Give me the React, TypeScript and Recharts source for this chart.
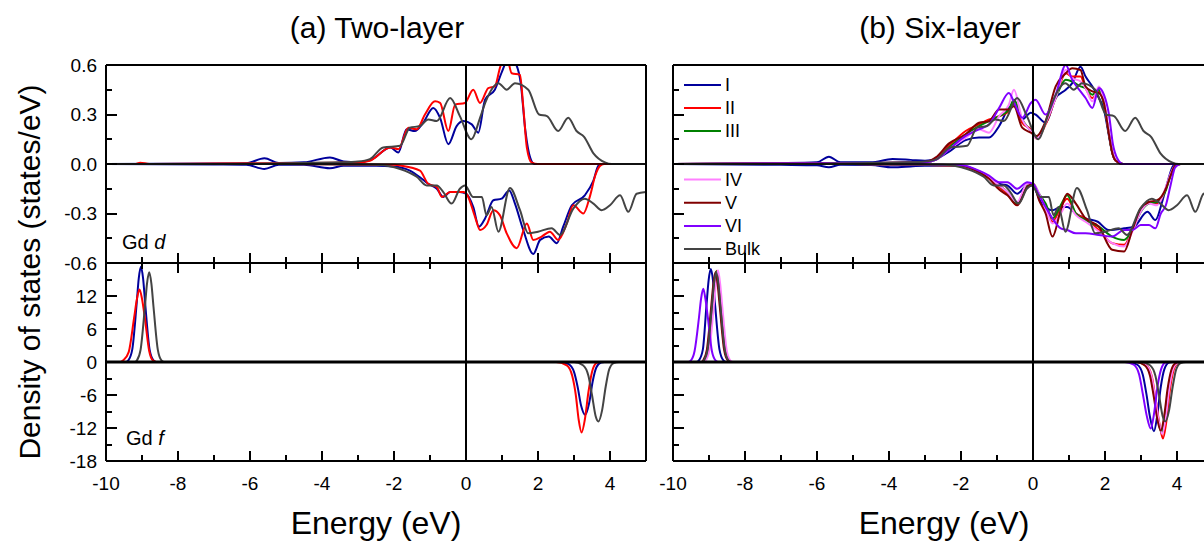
import React from "react";
import { LineChart, Line, XAxis, YAxis, ReferenceLine } from "recharts";

type P = [number, number];

// energy axis ticks (eV) and DOS ticks
const X_TICKS = [-10, -9, -8, -7, -6, -5, -4, -3, -2, -1, 0, 1, 2, 3, 4];
const D_TICKS = [-0.6, -0.45, -0.3, -0.15, 0, 0.15, 0.3, 0.45, 0.6];
const D_MAJOR = [-0.6, -0.3, 0, 0.3, 0.6];
const F_TICKS = [-18, -15, -12, -9, -6, -3, 0, 3, 6, 9, 12, 15, 18];
const F_MAJOR = [-18, -12, -6, 0, 6, 12, 18];
const F_LABELS = [-18, -12, -6, 0, 6, 12];

const LEGEND_TOP = ["I", "II", "III"];
const LEGEND_BOTTOM = ["IV", "V", "VI", "Bulk"];

const C: Record<string, string> = {
  I: "#00009c",
  II: "#ff0000",
  III: "#008000",
  IV: "#ff80ff",
  V: "#800000",
  VI: "#8000ff",
  Bulk: "#444444",
};

// ---------- bulk (same in both columns) ----------
const BULK_D_UP: P[] = [[-10, 0], [-7, 0], [-5, 0.005], [-3.5, 0.01], [-3, 0.015], [-2.67, 0.03], [-2.3, 0.1], [-1.83, 0.11], [-1.56, 0.22], [-1.28, 0.23], [-1.05, 0.27], [-0.81, 0.26], [-0.44, 0.4], [-0.17, 0.29], [0.15, 0.15], [0.39, 0.28], [0.55, 0.38], [0.9, 0.49], [1.13, 0.45], [1.36, 0.49], [1.73, 0.45], [2.03, 0.3], [2.25, 0.29], [2.56, 0.2], [2.84, 0.28], [3.07, 0.2], [3.28, 0.165], [3.54, 0.065], [3.86, 0.01], [4.05, 0], [5, 0]];
const BULK_D_DN: P[] = [[-10, 0], [-5, 0], [-2.5, -0.005], [-1.83, -0.03], [-1.37, -0.077], [-1.09, -0.13], [-0.81, -0.13], [-0.63, -0.17], [-0.4, -0.24], [-0.17, -0.15], [-0.03, -0.13], [0.2, -0.2], [0.44, -0.2], [0.57, -0.31], [0.71, -0.26], [0.9, -0.41], [1.22, -0.145], [1.5, -0.28], [1.73, -0.42], [2.0, -0.41], [2.38, -0.39], [2.61, -0.43], [2.98, -0.27], [3.3, -0.21], [3.54, -0.24], [3.77, -0.28], [4.0, -0.25], [4.28, -0.19], [4.51, -0.29], [4.74, -0.18], [5, -0.17]];
const BULK_F_UP: P[] = [[-10, 0], [-9.2, 0], [-9.14, 0.3], [-9.04, 2.2], [-8.92, 10], [-8.86, 14.3], [-8.8, 16.3], [-8.74, 14.3], [-8.68, 10], [-8.56, 2.2], [-8.46, 0.3], [-8.38, 0], [5, 0]];
const BULK_F_DN: P[] = [[-10, 0], [3.0, 0], [3.25, -0.6], [3.4, -2.5], [3.5, -6], [3.6, -9.8], [3.68, -10.8], [3.78, -8.8], [3.88, -4.5], [3.98, -1.3], [4.1, -0.2], [4.25, 0], [5, 0]];

// ---------- (a) two-layer ----------
const A_I_D_UP: P[] = [[-10, 0], [-7, 0.003], [-6.1, 0.005], [-5.6, 0.035], [-5.2, 0.006], [-4.5, 0.01], [-3.78, 0.04], [-3.4, 0.015], [-3, 0.01], [-2.6, 0.03], [-2.1, 0.1], [-1.88, 0.07], [-1.65, 0.21], [-1.42, 0.2], [-1.19, 0.25], [-0.91, 0.34], [-0.72, 0.28], [-0.49, 0.12], [-0.26, 0.23], [-0.07, 0.26], [0.16, 0.24], [0.34, 0.19], [0.53, 0.39], [0.8, 0.45], [1.0, 0.56], [1.2, 0.65], [1.4, 0.6], [1.52, 0.49], [1.65, 0.2], [1.78, 0.04], [1.9, 0], [5, 0]];
const A_I_D_DN: P[] = [[-10, 0], [-7, -0.003], [-6.1, -0.005], [-5.6, -0.03], [-5.2, -0.005], [-4.5, -0.005], [-3.78, -0.026], [-3.4, -0.01], [-2.5, -0.01], [-2, -0.015], [-1.56, -0.04], [-1.28, -0.08], [-1.05, -0.12], [-0.81, -0.15], [-0.63, -0.2], [-0.44, -0.17], [-0.17, -0.17], [0, -0.18], [0.2, -0.26], [0.36, -0.38], [0.53, -0.33], [0.76, -0.22], [0.99, -0.21], [1.2, -0.16], [1.36, -0.24], [1.59, -0.4], [1.87, -0.545], [2.06, -0.46], [2.3, -0.44], [2.52, -0.48], [2.7, -0.38], [2.94, -0.25], [3.3, -0.19], [3.54, -0.1], [3.68, -0.01], [3.8, 0], [5, 0]];
const A_I_F_UP: P[] = [[-10, 0], [-9.45, 0], [-9.38, 0.3], [-9.27, 2.3], [-9.15, 10.5], [-9.09, 15.2], [-9.03, 17.3], [-8.97, 15.2], [-8.91, 10.5], [-8.79, 2.3], [-8.68, 0.3], [-8.6, 0], [5, 0]];
const A_I_F_DN: P[] = [[-10, 0], [2.6, 0], [2.85, -0.4], [3.0, -1.8], [3.1, -4.5], [3.2, -8], [3.31, -9.6], [3.42, -7.5], [3.52, -3.5], [3.62, -1.0], [3.75, -0.1], [3.85, 0], [5, 0]];

const A_II_D_UP: P[] = [[-10, 0], [-9.2, 0], [-9.05, 0.008], [-8.8, 0], [-7, 0.003], [-5, 0.005], [-3, 0.01], [-2.67, 0.02], [-2.1, 0.1], [-1.88, 0.09], [-1.6, 0.22], [-1.37, 0.21], [-1.14, 0.3], [-0.86, 0.38], [-0.72, 0.37], [-0.49, 0.2], [-0.3, 0.36], [-0.03, 0.37], [0.2, 0.45], [0.39, 0.37], [0.62, 0.46], [0.8, 0.47], [0.94, 0.58], [1.1, 0.68], [1.27, 0.55], [1.5, 0.54], [1.59, 0.35], [1.69, 0.1], [1.82, 0.01], [2, 0], [5, 0]];
const A_II_D_DN: P[] = [[-10, 0], [-5, 0], [-2, -0.005], [-1.8, -0.01], [-1.28, -0.04], [-1.05, -0.12], [-0.81, -0.14], [-0.67, -0.2], [-0.44, -0.17], [-0.07, -0.17], [0.04, -0.19], [0.25, -0.32], [0.39, -0.4], [0.57, -0.37], [0.76, -0.28], [0.94, -0.31], [1.13, -0.42], [1.41, -0.51], [1.69, -0.36], [1.87, -0.46], [2.1, -0.44], [2.33, -0.41], [2.56, -0.46], [2.8, -0.36], [2.98, -0.25], [3.26, -0.3], [3.45, -0.19], [3.59, -0.07], [3.73, -0.01], [3.85, 0], [5, 0]];
const A_II_F_UP: P[] = [[-10, 0], [-9.6, 0], [-9.52, 0.3], [-9.37, 1.8], [-9.22, 8], [-9.14, 11.5], [-9.07, 13.2], [-9.0, 11.5], [-8.92, 8], [-8.8, 2], [-8.7, 0.3], [-8.6, 0], [5, 0]];
const A_II_F_DN: P[] = [[-10, 0], [2.5, 0], [2.8, -0.6], [2.95, -2.5], [3.05, -6], [3.13, -10.5], [3.21, -12.8], [3.3, -10.5], [3.4, -5.5], [3.5, -1.8], [3.62, -0.2], [3.72, 0], [5, 0]];

// ---------- (b) six-layer ----------
const B_I_D_UP: P[] = [[-10, 0], [-7, 0.005], [-6, 0.01], [-5.67, 0.044], [-5.35, 0.01], [-4.5, 0.01], [-3.9, 0.03], [-3.4, 0.025], [-3.0, 0.02], [-2.7, 0.03], [-2.33, 0.075], [-1.87, 0.145], [-1.5, 0.16], [-1.22, 0.16], [-0.94, 0.23], [-0.67, 0.34], [-0.53, 0.36], [-0.3, 0.27], [-0.06, 0.31], [0.07, 0.3], [0.35, 0.25], [0.63, 0.4], [0.91, 0.45], [1.09, 0.49], [1.32, 0.59], [1.46, 0.53], [1.65, 0.47], [1.83, 0.4], [1.97, 0.33], [2.11, 0.17], [2.2, 0.07], [2.3, 0.02], [2.5, 0], [5, 0]];
const B_I_D_DN: P[] = [[-10, 0], [-7, -0.005], [-6, -0.008], [-5.67, -0.02], [-5.35, -0.005], [-4.5, -0.006], [-3.9, -0.02], [-3.4, -0.015], [-3, -0.01], [-2, -0.01], [-1.5, -0.045], [-1.22, -0.08], [-0.94, -0.12], [-0.71, -0.13], [-0.44, -0.18], [-0.16, -0.13], [0, -0.13], [0.17, -0.21], [0.35, -0.26], [0.54, -0.28], [0.77, -0.26], [0.95, -0.26], [1.19, -0.3], [1.46, -0.33], [1.8, -0.35], [2.1, -0.4], [2.53, -0.39], [2.8, -0.38], [3.18, -0.29], [3.4, -0.34], [3.6, -0.22], [3.75, -0.1], [3.9, -0.01], [4.05, 0], [5, 0]];
const B_I_F_UP: P[] = [[-10, 0], [-9.35, 0], [-9.28, 0.3], [-9.17, 2.3], [-9.07, 10.3], [-9.01, 14.9], [-8.95, 16.9], [-8.89, 14.9], [-8.83, 10.3], [-8.71, 2.3], [-8.6, 0.3], [-8.52, 0], [5, 0]];
const B_I_F_DN: P[] = [[-10, 0], [2.65, 0], [2.9, -0.5], [3.05, -2.3], [3.15, -5.8], [3.25, -10], [3.36, -12.6], [3.45, -9.8], [3.55, -4.5], [3.65, -1.3], [3.78, -0.1], [3.88, 0], [5, 0]];

const B_II_D_UP: P[] = [[-10, 0], [-7, 0.003], [-5, 0.005], [-3, 0.01], [-2.7, 0.03], [-2.33, 0.11], [-1.87, 0.2], [-1.5, 0.24], [-1.22, 0.27], [-0.94, 0.29], [-0.67, 0.32], [-0.53, 0.37], [-0.3, 0.25], [-0.06, 0.21], [0.1, 0.155], [0.35, 0.24], [0.63, 0.4], [0.91, 0.55], [1.09, 0.53], [1.32, 0.53], [1.46, 0.46], [1.65, 0.4], [1.83, 0.44], [1.97, 0.37], [2.11, 0.18], [2.2, 0.07], [2.3, 0.02], [2.5, 0], [5, 0]];
const B_II_D_DN: P[] = [[-10, 0], [-5, 0], [-2, -0.01], [-1.5, -0.045], [-1.22, -0.08], [-0.94, -0.14], [-0.71, -0.18], [-0.44, -0.25], [-0.16, -0.13], [0, -0.12], [0.17, -0.19], [0.35, -0.25], [0.54, -0.35], [0.77, -0.26], [0.95, -0.21], [1.19, -0.3], [1.46, -0.33], [1.83, -0.4], [2.2, -0.48], [2.53, -0.49], [2.76, -0.4], [2.99, -0.28], [3.22, -0.23], [3.45, -0.24], [3.69, -0.15], [3.82, -0.07], [3.95, -0.01], [4.1, 0], [5, 0]];
const B_II_F_UP: P[] = [[-10, 0], [-9.18, 0], [-9.12, 0.3], [-9.02, 2.2], [-8.9, 10], [-8.84, 14.3], [-8.78, 16.6], [-8.72, 14.3], [-8.66, 10], [-8.54, 2.2], [-8.44, 0.3], [-8.36, 0], [5, 0]];
const B_II_F_DN: P[] = [[-10, 0], [2.9, 0], [3.15, -0.6], [3.3, -2.6], [3.4, -6.5], [3.52, -11.5], [3.61, -13.9], [3.7, -11], [3.8, -5.2], [3.9, -1.6], [4.02, -0.2], [4.12, 0], [5, 0]];

const B_III_D_UP: P[] = [[-10, 0], [-5, 0.005], [-3, 0.01], [-2.7, 0.025], [-2.33, 0.1], [-1.87, 0.18], [-1.5, 0.23], [-1.22, 0.26], [-0.94, 0.29], [-0.67, 0.33], [-0.53, 0.39], [-0.3, 0.27], [-0.06, 0.2], [0.1, 0.16], [0.35, 0.25], [0.63, 0.4], [0.91, 0.51], [1.09, 0.5], [1.32, 0.47], [1.46, 0.46], [1.65, 0.42], [1.83, 0.45], [1.97, 0.36], [2.11, 0.18], [2.2, 0.07], [2.3, 0.02], [2.5, 0], [5, 0]];
const B_III_D_DN: P[] = [[-10, 0], [-5, 0], [-2, -0.01], [-1.5, -0.045], [-1.22, -0.08], [-0.94, -0.13], [-0.71, -0.17], [-0.44, -0.24], [-0.16, -0.13], [0, -0.12], [0.17, -0.18], [0.35, -0.24], [0.54, -0.33], [0.77, -0.25], [0.95, -0.19], [1.19, -0.3], [1.46, -0.34], [1.83, -0.38], [2.2, -0.44], [2.53, -0.46], [2.76, -0.4], [2.99, -0.29], [3.22, -0.24], [3.45, -0.23], [3.69, -0.16], [3.82, -0.07], [3.95, -0.01], [4.1, 0], [5, 0]];
const B_III_F_UP: P[] = [[-10, 0], [-9.2, 0], [-9.14, 0.3], [-9.04, 2.2], [-8.92, 10], [-8.86, 14.2], [-8.8, 16.5], [-8.74, 14.2], [-8.68, 10], [-8.56, 2.2], [-8.46, 0.3], [-8.38, 0], [5, 0]];
const B_III_F_DN: P[] = [[-10, 0], [2.88, 0], [3.12, -0.6], [3.27, -2.5], [3.37, -6.2], [3.48, -10.8], [3.57, -12.8], [3.66, -10.2], [3.76, -4.9], [3.86, -1.5], [3.98, -0.2], [4.08, 0], [5, 0]];

const B_IV_D_UP: P[] = [[-10, 0], [-5, 0.005], [-3, 0.01], [-2.7, 0.025], [-2.33, 0.09], [-1.87, 0.16], [-1.5, 0.21], [-1.22, 0.19], [-0.94, 0.29], [-0.67, 0.36], [-0.53, 0.45], [-0.3, 0.27], [-0.06, 0.2], [0.1, 0.155], [0.35, 0.25], [0.63, 0.4], [0.91, 0.57], [1.09, 0.52], [1.32, 0.5], [1.46, 0.46], [1.65, 0.38], [1.83, 0.47], [1.97, 0.38], [2.11, 0.19], [2.2, 0.08], [2.3, 0.02], [2.5, 0], [5, 0]];
const B_IV_D_DN: P[] = [[-10, 0], [-5, 0], [-2, -0.01], [-1.5, -0.045], [-1.22, -0.08], [-0.94, -0.13], [-0.71, -0.17], [-0.44, -0.23], [-0.16, -0.12], [0, -0.12], [0.17, -0.18], [0.35, -0.27], [0.54, -0.36], [0.77, -0.3], [0.95, -0.24], [1.19, -0.31], [1.46, -0.35], [1.83, -0.41], [2.2, -0.48], [2.53, -0.5], [2.76, -0.41], [2.99, -0.29], [3.22, -0.24], [3.45, -0.25], [3.69, -0.14], [3.82, -0.06], [3.95, -0.01], [4.1, 0], [5, 0]];
const B_IV_F_UP: P[] = [[-10, 0], [-9.15, 0], [-9.09, 0.3], [-8.99, 2.2], [-8.87, 10], [-8.81, 14.2], [-8.75, 16.7], [-8.69, 14.2], [-8.63, 10], [-8.51, 2.2], [-8.41, 0.3], [-8.33, 0], [5, 0]];
const B_IV_F_DN: P[] = [[-10, 0], [2.9, 0], [3.14, -0.6], [3.29, -2.5], [3.39, -6.3], [3.5, -11], [3.59, -13.1], [3.68, -10.4], [3.78, -5], [3.88, -1.5], [4.0, -0.2], [4.1, 0], [5, 0]];

const B_V_D_UP: P[] = [[-10, 0], [-5, 0.005], [-3, 0.012], [-2.7, 0.04], [-2.33, 0.125], [-1.87, 0.18], [-1.5, 0.25], [-1.22, 0.26], [-0.94, 0.33], [-0.67, 0.33], [-0.53, 0.35], [-0.3, 0.22], [-0.06, 0.19], [0.1, 0.17], [0.35, 0.26], [0.63, 0.47], [0.91, 0.55], [1.09, 0.58], [1.32, 0.57], [1.46, 0.47], [1.65, 0.44], [1.83, 0.43], [1.97, 0.37], [2.11, 0.18], [2.2, 0.07], [2.3, 0.02], [2.5, 0], [5, 0]];
const B_V_D_DN: P[] = [[-10, 0], [-5, 0], [-2, -0.01], [-1.5, -0.05], [-1.22, -0.09], [-0.94, -0.155], [-0.71, -0.19], [-0.44, -0.25], [-0.16, -0.14], [0, -0.12], [0.17, -0.22], [0.35, -0.3], [0.54, -0.44], [0.77, -0.28], [0.95, -0.18], [1.19, -0.24], [1.46, -0.33], [1.83, -0.38], [2.2, -0.52], [2.53, -0.53], [2.76, -0.4], [2.99, -0.27], [3.22, -0.23], [3.45, -0.22], [3.69, -0.15], [3.82, -0.07], [3.95, -0.01], [4.1, 0], [5, 0]];
const B_V_F_UP: P[] = [[-10, 0], [-9.22, 0], [-9.16, 0.3], [-9.06, 2.2], [-8.94, 10], [-8.88, 14.1], [-8.82, 16.3], [-8.76, 14.1], [-8.7, 10], [-8.58, 2.2], [-8.48, 0.3], [-8.4, 0], [5, 0]];
const B_V_F_DN: P[] = [[-10, 0], [2.86, 0], [3.1, -0.6], [3.25, -2.5], [3.35, -6.1], [3.46, -10.6], [3.55, -12.5], [3.64, -10], [3.74, -4.8], [3.84, -1.5], [3.96, -0.2], [4.06, 0], [5, 0]];

const B_VI_D_UP: P[] = [[-10, 0], [-5, 0.005], [-3, 0.01], [-2.7, 0.025], [-2.33, 0.09], [-1.87, 0.17], [-1.5, 0.21], [-1.22, 0.24], [-0.94, 0.34], [-0.67, 0.43], [-0.5, 0.36], [-0.3, 0.28], [-0.06, 0.37], [0.07, 0.39], [0.35, 0.3], [0.63, 0.42], [0.91, 0.6], [1.09, 0.51], [1.32, 0.44], [1.46, 0.4], [1.65, 0.34], [1.83, 0.46], [1.97, 0.42], [2.11, 0.3], [2.22, 0.12], [2.35, 0.03], [2.5, 0], [5, 0]];
const B_VI_D_DN: P[] = [[-10, 0], [-5, 0], [-2, -0.008], [-1.5, -0.04], [-1.22, -0.07], [-0.94, -0.11], [-0.71, -0.11], [-0.44, -0.15], [-0.16, -0.11], [0, -0.12], [0.17, -0.19], [0.35, -0.26], [0.54, -0.33], [0.77, -0.39], [0.95, -0.4], [1.19, -0.42], [1.46, -0.42], [1.83, -0.43], [2.2, -0.44], [2.53, -0.4], [2.76, -0.4], [2.99, -0.37], [3.22, -0.37], [3.4, -0.39], [3.55, -0.3], [3.69, -0.25], [3.82, -0.13], [3.95, -0.02], [4.1, 0], [5, 0]];
const B_VI_F_UP: P[] = [[-10, 0], [-9.58, 0], [-9.5, 0.3], [-9.4, 2], [-9.28, 8], [-9.22, 11.5], [-9.16, 13.3], [-9.1, 11.5], [-9.03, 8], [-8.92, 2], [-8.82, 0.3], [-8.74, 0], [5, 0]];
const B_VI_F_DN: P[] = [[-10, 0], [2.55, 0], [2.8, -0.5], [2.95, -2.3], [3.05, -5.8], [3.16, -9.8], [3.27, -12.1], [3.36, -9.5], [3.46, -4.4], [3.56, -1.3], [3.68, -0.1], [3.78, 0], [5, 0]];

type Series = { name: string; dUp: P[]; dDn: P[]; fUp: P[]; fDn: P[] };

const TWO_LAYER: Series[] = [
  { name: "I", dUp: A_I_D_UP, dDn: A_I_D_DN, fUp: A_I_F_UP, fDn: A_I_F_DN },
  { name: "II", dUp: A_II_D_UP, dDn: A_II_D_DN, fUp: A_II_F_UP, fDn: A_II_F_DN },
  { name: "Bulk", dUp: BULK_D_UP, dDn: BULK_D_DN, fUp: BULK_F_UP, fDn: BULK_F_DN },
];

const SIX_LAYER: Series[] = [
  { name: "I", dUp: B_I_D_UP, dDn: B_I_D_DN, fUp: B_I_F_UP, fDn: B_I_F_DN },
  { name: "II", dUp: B_II_D_UP, dDn: B_II_D_DN, fUp: B_II_F_UP, fDn: B_II_F_DN },
  { name: "III", dUp: B_III_D_UP, dDn: B_III_D_DN, fUp: B_III_F_UP, fDn: B_III_F_DN },
  { name: "IV", dUp: B_IV_D_UP, dDn: B_IV_D_DN, fUp: B_IV_F_UP, fDn: B_IV_F_DN },
  { name: "V", dUp: B_V_D_UP, dDn: B_V_D_DN, fUp: B_V_F_UP, fDn: B_V_F_DN },
  { name: "VI", dUp: B_VI_D_UP, dDn: B_VI_D_DN, fUp: B_VI_F_UP, fDn: B_VI_F_DN },
  { name: "Bulk", dUp: BULK_D_UP, dDn: BULK_D_DN, fUp: BULK_F_UP, fDn: BULK_F_DN },
];

const pts = (arr: P[]) => arr.map(([e, v]) => ({ e, v }));

const FONT = "'Liberation Sans', Arial, sans-serif";
const AXIS = { stroke: "#000", strokeWidth: 2 };

// layout of the four plot boxes (each 540 x 198 px)
const CHART_W = 700;
const Y_AXIS_W = 106;
const PLOT_W = 540;
const PLOT_H = 198;
const D_TOP = 65;
const F_TOP = D_TOP + PLOT_H;
const COL_LEFT = [0, 567];

function XLabel(props: any) {
  const { x, y, payload } = props;
  const v = payload.value;
  if (v % 2 !== 0) return <g />;
  return (
    <text x={x} y={y + 22} dy="0.35em" textAnchor="middle" fontSize={19} fontFamily={FONT} fill="#000">
      {v}
    </text>
  );
}

function YLabel(props: any) {
  const { x, y, payload, labels, fmt } = props;
  const v = payload.value;
  const show = labels && labels.some((m: number) => Math.abs(m - v) < 1e-6);
  if (!show) return <g />;
  return (
    <text x={x - 9} y={y} dy="0.35em" textAnchor="end" fontSize={19} fontFamily={FONT} fill="#000">
      {fmt(v)}
    </text>
  );
}

function lines(series: Series[], kind: "d" | "f") {
  return series.flatMap((s) => [
    <Line
      key={s.name + kind + "up"}
      data={pts(kind === "d" ? s.dUp : s.fUp)}
      dataKey="v"
      type="monotone"
      stroke={C[s.name]}
      strokeWidth={2}
      dot={false}
      activeDot={false}
      isAnimationActive={false}
    />,
    <Line
      key={s.name + kind + "dn"}
      data={pts(kind === "d" ? s.dDn : s.fDn)}
      dataKey="v"
      type="monotone"
      stroke={C[s.name]}
      strokeWidth={2}
      dot={false}
      activeDot={false}
      isAnimationActive={false}
    />,
  ]);
}

function DPanel({ left, series, showLabels }: { left: number; series: Series[]; showLabels: boolean }) {
  return (
    <div style={{ position: "absolute", left, top: 0 }}>
      <LineChart width={CHART_W} height={300} margin={{ top: D_TOP, right: CHART_W - Y_AXIS_W - PLOT_W, bottom: 17, left: 0 }}>
        <XAxis
          type="number"
          dataKey="e"
          domain={[-10, 5]}
          ticks={X_TICKS}
          interval={0}
          allowDataOverflow
          height={20}
          tickSize={0}
          tickMargin={0}
          axisLine={AXIS}
          tickLine={false}
          tick={false}
        />
        <YAxis
          type="number"
          domain={[-0.6, 0.6]}
          ticks={D_TICKS}
          interval={0}
          allowDataOverflow
          width={Y_AXIS_W}
          tickSize={0}
          tickMargin={0}
          axisLine={AXIS}
          tickLine={false}
          tick={(p: any) => (
            <YLabel {...p} labels={showLabels ? D_MAJOR : null} fmt={(v: number) => v.toFixed(1)} />
          )}
        />
        {lines(series, "d")}
        <ReferenceLine y={0} stroke="#000" strokeWidth={1.5} ifOverflow="visible" />
        <ReferenceLine x={0} stroke="#000" strokeWidth={2} ifOverflow="visible" />
        <ReferenceLine y={0.6} stroke="#000" strokeWidth={2} ifOverflow="visible" />
        <ReferenceLine x={5} stroke="#000" strokeWidth={2} ifOverflow="visible" />
      </LineChart>
    </div>
  );
}

function FPanel({ left, series, showLabels }: { left: number; series: Series[]; showLabels: boolean }) {
  return (
    <div style={{ position: "absolute", left, top: 230 }}>
      <LineChart width={CHART_W} height={300} margin={{ top: F_TOP - 230, right: CHART_W - Y_AXIS_W - PLOT_W, bottom: 39, left: 0 }}>
        <XAxis
          type="number"
          dataKey="e"
          domain={[-10, 5]}
          ticks={X_TICKS}
          interval={0}
          allowDataOverflow
          height={30}
          tickSize={0}
          tickMargin={0}
          axisLine={AXIS}
          tickLine={false}
          tick={(p: any) => <XLabel {...p} />}
        />
        <YAxis
          type="number"
          domain={[-18, 18]}
          ticks={F_TICKS}
          interval={0}
          allowDataOverflow
          width={Y_AXIS_W}
          tickSize={0}
          tickMargin={0}
          axisLine={AXIS}
          tickLine={false}
          tick={(p: any) => (
            <YLabel {...p} labels={showLabels ? F_LABELS : null} fmt={(v: number) => String(v)} />
          )}
        />
        {lines(series, "f")}
        <ReferenceLine y={0} stroke="#000" strokeWidth={3} ifOverflow="visible" />
        <ReferenceLine x={0} stroke="#000" strokeWidth={2} ifOverflow="visible" />
        <ReferenceLine x={5} stroke="#000" strokeWidth={2} ifOverflow="visible" />
      </LineChart>
    </div>
  );
}

// inward tick marks for all four boxes as small boxes, same linear mapping as the plots
function TickOverlay() {
  const out: React.ReactNode[] = [];
  const isIn = (arr: number[], v: number) => arr.some((m) => Math.abs(m - v) < 1e-6);
  const box = (key: string, left: number, top: number, width: number, height: number) => (
    <div key={key} style={{ position: "absolute", left, top, width, height, background: "#000" }} />
  );
  COL_LEFT.forEach((colLeft, ci) => {
    const x0 = colLeft + Y_AXIS_W;
    const sx = (e: number) => x0 + ((e + 10) / 15) * PLOT_W;
    const sd = (v: number) => D_TOP + ((0.6 - v) / 1.2) * PLOT_H;
    const sf = (v: number) => F_TOP + ((18 - v) / 36) * PLOT_H;
    const bottom = F_TOP + PLOT_H;
    X_TICKS.forEach((t) => {
      const len = t % 2 === 0 ? 10 : 6;
      const x = Math.round(sx(t)) - 1;
      out.push(box(`${ci}xm${t}`, x, F_TOP - len, 2, 2 * len));
      out.push(box(`${ci}xb${t}`, x, bottom - len, 2, len));
    });
    D_TICKS.forEach((t) => {
      const len = isIn(D_MAJOR, t) ? 11 : 6;
      out.push(box(`${ci}yd${t}`, x0, Math.round(sd(t)) - 1, len, 2));
    });
    F_TICKS.forEach((t) => {
      const len = isIn(F_MAJOR, t) ? 11 : 6;
      out.push(box(`${ci}yf${t}`, x0, Math.round(sf(t)) - 1, len, 2));
    });
  });
  return <>{out}</>;
}

function Legend() {
  const row = (name: string, y: number) => (
    <g key={name}>
      <line x1={684} x2={721} y1={y} y2={y} stroke={C[name]} strokeWidth={2} />
      <text x={725} y={y} dy="0.35em" fontSize={18} fontFamily={FONT} fill="#000">
        {name}
      </text>
    </g>
  );
  return (
    <svg width={1204} height={541} style={{ position: "absolute", left: 0, top: 0, pointerEvents: "none" }}>
      {LEGEND_TOP.map((n, i) => row(n, 85 + i * 23))}
      {LEGEND_BOTTOM.map((n, i) => row(n, 179.5 + i * 23.2))}
    </svg>
  );
}

const textStyle: React.CSSProperties = {
  position: "absolute",
  fontFamily: FONT,
  color: "#000",
  whiteSpace: "nowrap",
  textAlign: "center",
};

export default function App() {
  return (
    <div
      style={{
        position: "fixed",
        left: 0,
        top: 0,
        width: 1204,
        height: 541,
        overflow: "hidden",
        background: "#fff",
        fontFamily: FONT,
      }}
    >
      <FPanel left={COL_LEFT[0]} series={TWO_LAYER} showLabels={true} />
      <DPanel left={COL_LEFT[0]} series={TWO_LAYER} showLabels={true} />
      <FPanel left={COL_LEFT[1]} series={SIX_LAYER} showLabels={false} />
      <DPanel left={COL_LEFT[1]} series={SIX_LAYER} showLabels={false} />
      <Legend />
      <TickOverlay />

      <div style={{ ...textStyle, left: 227, width: 300, top: 10, fontSize: 30, lineHeight: "36px" }}>(a) Two-layer</div>
      <div style={{ ...textStyle, left: 790, width: 300, top: 10, fontSize: 30, lineHeight: "36px" }}>(b) Six-layer</div>
      <div style={{ ...textStyle, left: 226, width: 300, top: 505, fontSize: 32, lineHeight: "36px" }}>Energy (eV)</div>
      <div style={{ ...textStyle, left: 794, width: 300, top: 505, fontSize: 32, lineHeight: "36px" }}>Energy (eV)</div>
      <div
        style={{
          ...textStyle,
          left: 30 - 220,
          width: 440,
          top: 272 - 18,
          fontSize: 30,
          lineHeight: "36px",
          transform: "rotate(-90deg)",
        }}
      >
        Density of states (states/eV)
      </div>
      <div style={{ ...textStyle, left: 122, top: 231, fontSize: 20, lineHeight: "22px", textAlign: "left" }}>
        Gd <i>d</i>
      </div>
      <div style={{ ...textStyle, left: 126, top: 427, fontSize: 20, lineHeight: "22px", textAlign: "left" }}>
        Gd <i>f</i>
      </div>
    </div>
  );
}
